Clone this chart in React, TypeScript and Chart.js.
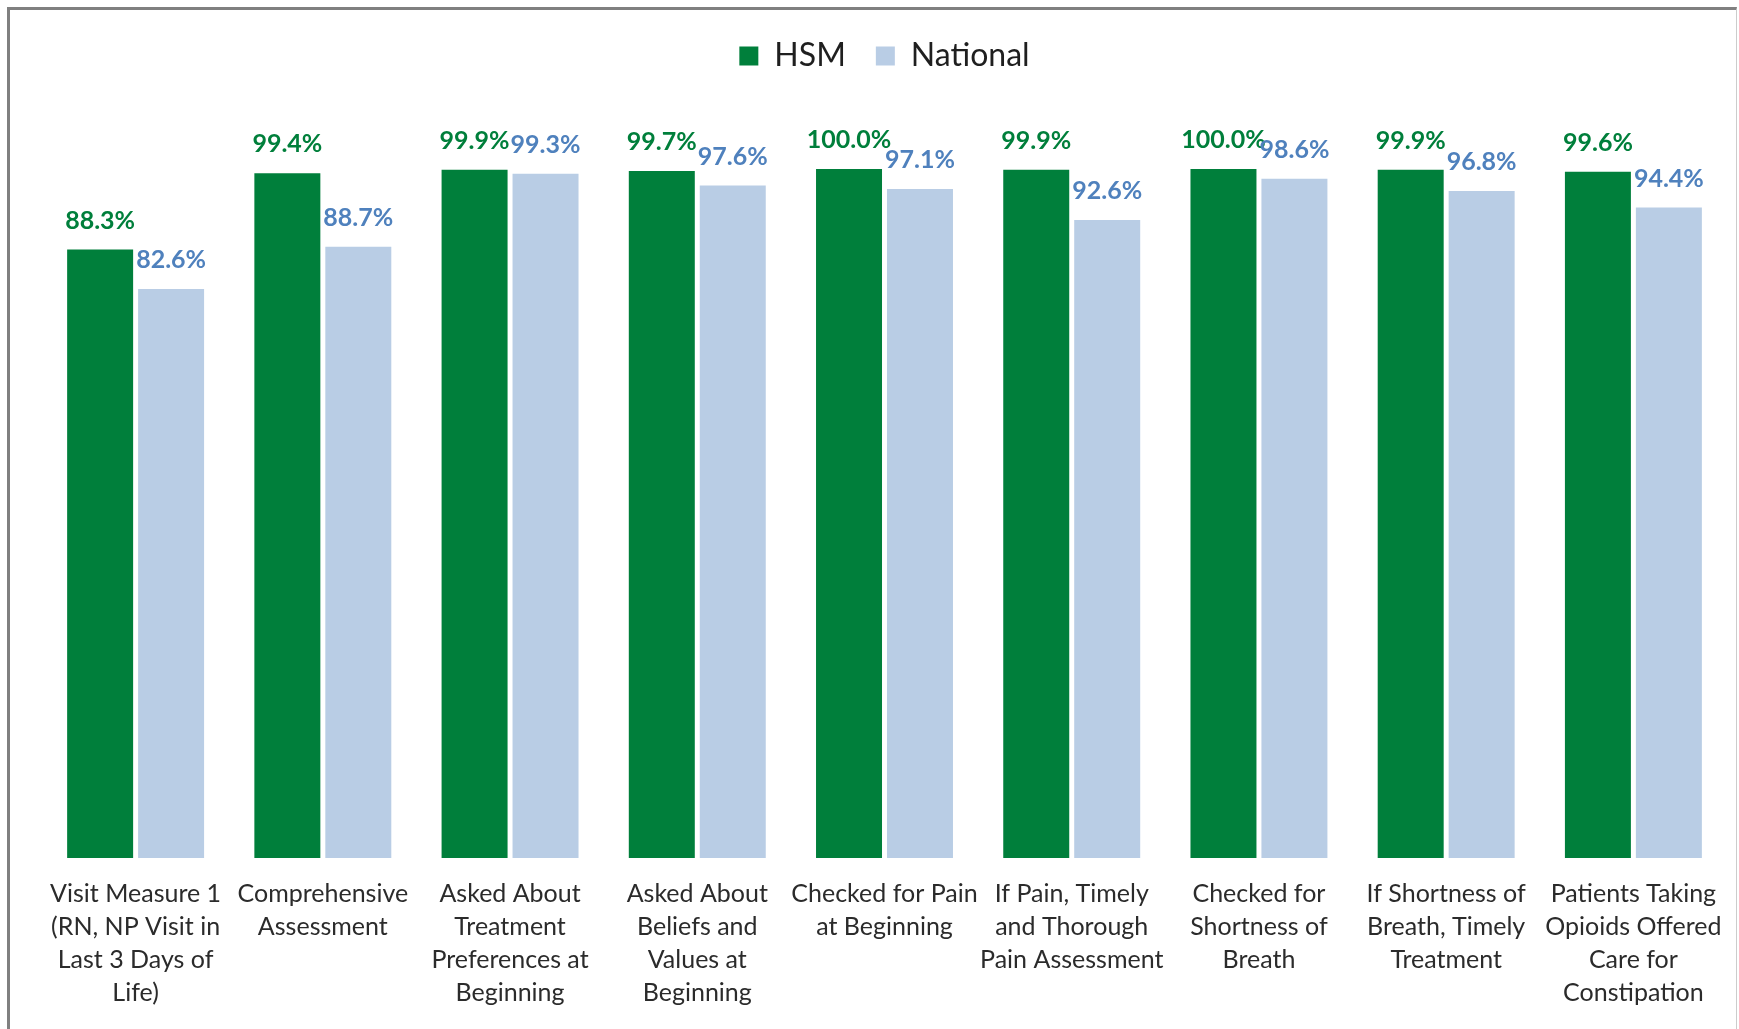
import React, { useEffect, useRef } from "react";
import { Chart, registerables } from "chart.js";

Chart.register(...registerables);

const categories: string[][] = [
  ["Visit Measure 1", "(RN, NP Visit in", "Last 3 Days of", "Life)"],
  ["Comprehensive", "Assessment"],
  ["Asked About", "Treatment", "Preferences at", "Beginning"],
  ["Asked About", "Beliefs and", "Values at", "Beginning"],
  ["Checked for Pain", "at Beginning"],
  ["If Pain, Timely", "and Thorough", "Pain Assessment"],
  ["Checked for", "Shortness of", "Breath"],
  ["If Shortness of", "Breath, Timely", "Treatment"],
  ["Patients Taking", "Opioids Offered", "Care for", "Constipation"],
];

const hsmValues: number[] = [88.3, 99.4, 99.9, 99.7, 100.0, 99.9, 100.0, 99.9, 99.6];
const nationalValues: number[] = [82.6, 88.7, 99.3, 97.6, 97.1, 92.6, 98.6, 96.8, 94.4];

const GREEN = "#007F3B";
const LIGHT_BLUE = "#B9CDE5";
const LABEL_BLUE = "#4F81BD";
const FONT = "Lato, 'Noto Sans', sans-serif";

const valueLabels = {
  id: "valueLabels",
  afterDatasetsDraw(chart: any) {
    const ctx = chart.ctx;
    ctx.save();
    ctx.font = `bold 25px ${FONT}`;
    ctx.textAlign = "center";
    ctx.textBaseline = "middle";
    chart.data.datasets.forEach((ds: any, di: number) => {
      const meta = chart.getDatasetMeta(di);
      ctx.fillStyle = di === 0 ? GREEN : LABEL_BLUE;
      meta.data.forEach((bar: any, i: number) => {
        const v = ds.data[i];
        ctx.fillText(v.toFixed(1) + "%", bar.x, bar.y - 29);
      });
    });
    ctx.restore();
  },
};

const legendSpace = {
  id: "legendSpace",
  beforeInit(chart: any) {
    const orig = chart.legend.fit;
    chart.legend.fit = function () {
      orig.bind(this)();
      this.height += 87;
    };
  },
};

export default function App() {
  const ref = useRef<HTMLCanvasElement | null>(null);
  useEffect(() => {
    document.body.style.overflow = "hidden";
    const chart = new Chart(ref.current as HTMLCanvasElement, {
      type: "bar",
      data: {
        labels: categories,
        datasets: [
          {
            label: "HSM",
            data: hsmValues,
            backgroundColor: GREEN,
            barPercentage: 0.93,
            categoryPercentage: 0.758,
          },
          {
            label: "National",
            data: nationalValues,
            backgroundColor: LIGHT_BLUE,
            barPercentage: 0.93,
            categoryPercentage: 0.758,
          },
        ],
      },
      options: {
        animation: false,
        responsive: true,
        maintainAspectRatio: false,
        layout: { padding: { top: 0, left: 32, right: 9, bottom: 1 } },
        plugins: {
          legend: {
            display: true,
            position: "top",
            labels: {
              font: { family: FONT, size: 32 },
              color: "#1f1f1f",
              boxWidth: 19,
              boxHeight: 19,
              padding: 30,
            },
          },
          tooltip: { enabled: false },
        },
        scales: {
          x: {
            grid: { display: false, drawTicks: false },
            border: { display: false },
            afterFit: (scale: any) => {
              scale.paddingLeft = 0;
              scale.paddingRight = 0;
            },
            ticks: {
              font: { family: FONT, size: 25, lineHeight: 1.32 },
              color: "#2b2b2b",
              padding: 19,
              maxRotation: 0,
              autoSkip: false,
            },
          },
          y: {
            display: false,
            min: 0,
            max: 100,
          },
        },
      },
      plugins: [valueLabels, legendSpace],
    });
    return () => chart.destroy();
  }, []);

  return (
    <div
      style={{
        position: "fixed",
        left: 7,
        top: 7,
        width: 1730,
        height: 1022,
        boxSizing: "border-box",
        borderLeft: "3px solid #808080",
        borderTop: "3px solid #808080",
        borderRight: "1px solid #cccccc",
        background: "#ffffff",
      }}
    >
      <canvas ref={ref} />
    </div>
  );
}
